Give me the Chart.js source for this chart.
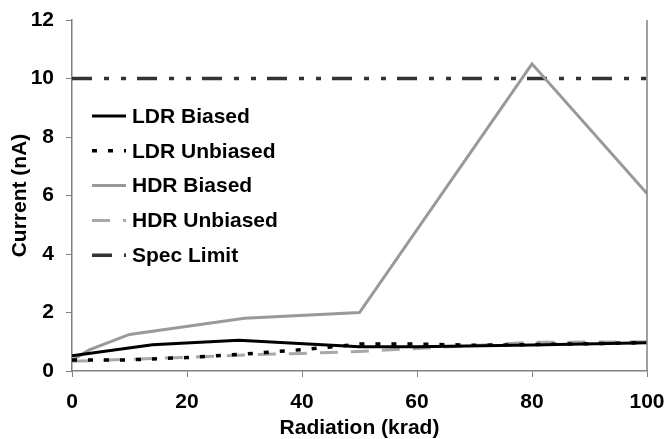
<!DOCTYPE html>
<html>
<head>
<meta charset="utf-8">
<script src="https://cdn.jsdelivr.net/npm/chart.js@4/dist/chart.umd.min.js"></script>
<style>
  html, body { margin: 0; padding: 0; background: #fff; }
  #wrap { width: 667px; height: 439px; }
</style>
</head>
<body>
<div id="wrap"><canvas id="chart"></canvas></div>
<script>
const seriesNames = ["LDR Biased", "LDR Unbiased", "HDR Biased", "HDR Unbiased", "Spec Limit"];

const ldrBiasedX = [0, 14, 29, 50, 60, 80, 100];
const ldrBiasedY = [0.52, 0.9, 1.05, 0.83, 0.83, 0.89, 0.97];

const ldrUnbiasedX = [0, 10, 20, 30, 40, 50, 60, 70, 80, 100];
const ldrUnbiasedY = [0.38, 0.38, 0.46, 0.58, 0.73, 0.92, 0.92, 0.88, 0.9, 0.97];

const hdrBiasedX = [0, 3, 10, 30, 50, 80, 100];
const hdrBiasedY = [0.37, 0.72, 1.25, 1.8, 2.0, 10.5, 6.07];

const hdrUnbiasedX = [0, 10, 20, 30, 40, 50, 60, 70, 80, 100];
const hdrUnbiasedY = [0.33, 0.4, 0.47, 0.55, 0.6, 0.67, 0.77, 0.87, 0.98, 1.0];

const specLimitX = [0, 100];
const specLimitY = [10, 10];

const toPoints = (xs, ys) => xs.map((x, i) => ({ x: x, y: ys[i] }));

const FONT = "'Liberation Sans', Arial, sans-serif";

// legend drawn inside the plot, on the left, plus the right border
const insideLegend = {
    id: "insideLegend",
    afterDraw(chart) {
        const ctx = chart.ctx;
        const area = chart.chartArea;
        ctx.save();
        ctx.strokeStyle = "#808080";
        ctx.lineWidth = 1.5;
        ctx.beginPath();
        ctx.moveTo(area.right, area.top);
        ctx.lineTo(area.right, area.bottom);
        ctx.stroke();

        const x0 = 92, lineLen = 34, textX = 132;
        let y = 116;
        ctx.font = "bold 21px " + FONT;
        ctx.textBaseline = "middle";
        chart.data.datasets.forEach((ds) => {
            ctx.strokeStyle = ds.borderColor;
            ctx.lineWidth = ds.borderWidth;
            ctx.setLineDash(ds.borderDash || []);
            ctx.beginPath();
            ctx.moveTo(x0, y);
            ctx.lineTo(x0 + lineLen, y);
            ctx.stroke();
            ctx.setLineDash([]);
            ctx.fillStyle = "#000";
            ctx.fillText(ds.label, textX, y + 1);
            y += 34.8;
        });
        ctx.restore();
    },
};

const data = {
    datasets: [
        {
            label: seriesNames[0],
            data: toPoints(ldrBiasedX, ldrBiasedY),
            borderColor: "#000000",
            borderWidth: 3,
        },
        {
            label: seriesNames[1],
            data: toPoints(ldrUnbiasedX, ldrUnbiasedY),
            borderColor: "#000000",
            borderWidth: 3.5,
            borderDash: [5, 11],
        },
        {
            label: seriesNames[2],
            data: toPoints(hdrBiasedX, hdrBiasedY),
            borderColor: "#999999",
            borderWidth: 3,
        },
        {
            label: seriesNames[3],
            data: toPoints(hdrUnbiasedX, hdrUnbiasedY),
            borderColor: "#a8a8a8",
            borderWidth: 3,
            borderDash: [18, 13],
        },
        {
            label: seriesNames[4],
            data: toPoints(specLimitX, specLimitY),
            borderColor: "#333333",
            borderWidth: 3.5,
            borderDash: [20, 12, 5, 12, 5, 11],
        },
    ],
};

const config = {
    type: "line",
    data: data,
    options: {
        responsive: true,
        maintainAspectRatio: false,
        animation: false,
        layout: { padding: { top: 20, right: 20, left: 0, bottom: 0 } },
        elements: {
            point: { radius: 0 },
            line: { tension: 0 },
        },
        plugins: {
            legend: { display: false },
            tooltip: { enabled: false },
        },
        scales: {
            x: {
                type: "linear",
                min: 0,
                max: 100,
                afterFit: (scale) => {
                    scale.height = 68;
                    scale.paddingLeft = 0;
                    scale.paddingRight = 0;
                },
                ticks: {
                    stepSize: 20,
                    color: "#000",
                    padding: 13,
                    font: { family: FONT, size: 21, weight: "bold" },
                },
                grid: {
                    drawOnChartArea: false,
                    drawTicks: true,
                    tickLength: 6,
                    color: "#808080",
                },
                border: { color: "#808080", width: 1.5 },
                title: {
                    display: true,
                    text: "Radiation (krad)",
                    color: "#000",
                    padding: { top: 0, bottom: -2 },
                    font: { family: FONT, size: 21, weight: "bold" },
                },
            },
            y: {
                min: 0,
                max: 12,
                afterFit: (scale) => {
                    scale.width = 72;
                    scale.paddingTop = 0;
                    scale.paddingBottom = 0;
                },
                ticks: {
                    stepSize: 2,
                    color: "#000",
                    padding: 12,
                    font: { family: FONT, size: 21, weight: "bold" },
                },
                grid: {
                    drawOnChartArea: false,
                    drawTicks: true,
                    tickLength: 6,
                    color: "#808080",
                },
                border: { color: "#808080", width: 1.5 },
                title: {
                    display: true,
                    text: "Current (nA)",
                    color: "#000",
                    padding: { top: 8, bottom: 0 },
                    font: { family: FONT, size: 21, weight: "bold" },
                },
            },
        },
    },
    plugins: [insideLegend],
};

const chart = new Chart(document.getElementById("chart"), config);
</script>
</body>
</html>
